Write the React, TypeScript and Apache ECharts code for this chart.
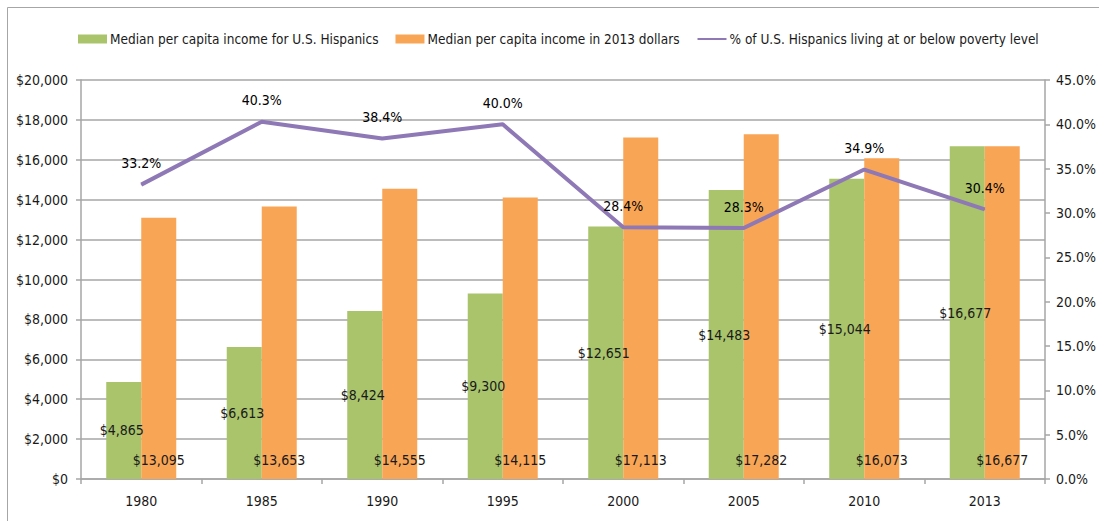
import React, { useEffect, useRef } from "react";
import * as echarts from "echarts";

const years = ["1980", "1985", "1990", "1995", "2000", "2005", "2010", "2013"];
const incomeNominal = [4865, 6613, 8424, 9300, 12651, 14483, 15044, 16677];
const income2013 = [13095, 13653, 14555, 14115, 17113, 17282, 16073, 16677];
const povertyPct = [33.2, 40.3, 38.4, 40.0, 28.4, 28.3, 34.9, 30.4];

const nameNominal = "Median per capita income for U.S. Hispanics";
const name2013 = "Median per capita income in 2013 dollars";
const namePoverty = "% of U.S. Hispanics living at or below poverty level";

const FONT = "'Liberation Sans Narrow', 'DejaVu Sans Condensed', 'Arial Narrow', sans-serif";
const GRAY = "#a6a6a6";
const TEXT = "#1a1a1a";
const FS = 14;
const PURPLE = "#8e78b5";

const money = (v: number) => "$" + v.toLocaleString("en-US");

export default function App() {
  const ref = useRef<HTMLDivElement>(null);
  useEffect(() => {
    if (!ref.current) return;
    const chart = echarts.init(ref.current, undefined, { renderer: "svg" });
    chart.setOption({
      animation: false,
      backgroundColor: "#ffffff",
      textStyle: { fontFamily: FONT, color: TEXT },
      graphic: [
        {
          type: "rect",
          shape: { x: 7.5, y: 7.5, width: 1300, height: 700 },
          style: { fill: "none", stroke: GRAY, lineWidth: 1 },
          silent: true,
        },
      ],
      legend: {
        left: 78,
        top: 32,
        padding: 0,
        itemWidth: 29,
        itemHeight: 9,
        itemGap: 17,
        width: 1010,
        textStyle: { fontFamily: FONT, fontSize: 13.5, color: TEXT, padding: [0, 0, 0, -2] },
        data: [
          { name: nameNominal, icon: "rect" },
          { name: name2013, icon: "rect" },
          { name: namePoverty, itemStyle: { color: "transparent", borderColor: "transparent", opacity: 0 } },
        ],
      },
      grid: { left: 81, right: 54, top: 80, bottom: 42 },
      xAxis: {
        type: "category",
        data: years,
        axisLine: { lineStyle: { color: GRAY, width: 1.5 } },
        axisTick: { show: true, length: 5, lineStyle: { color: GRAY, width: 1.5 } },
        axisLabel: { margin: 15, fontFamily: FONT, fontSize: FS, color: TEXT },
      },
      yAxis: [
        {
          type: "value",
          min: 0,
          max: 20000,
          interval: 2000,
          axisLine: { show: true, lineStyle: { color: GRAY, width: 1.5 } },
          axisTick: { show: true, length: 5, lineStyle: { color: GRAY, width: 1.5 } },
          axisLabel: { margin: 13, fontFamily: FONT, fontSize: FS, color: TEXT, formatter: (v: number) => money(v) },
          splitLine: { show: true, lineStyle: { color: GRAY, width: 1.5 } },
        },
        {
          type: "value",
          min: 0,
          max: 45,
          interval: 5,
          axisLine: { show: true, lineStyle: { color: GRAY, width: 1.5 } },
          axisTick: { show: true, length: 5, lineStyle: { color: GRAY, width: 1.5 } },
          axisLabel: { margin: 11, fontFamily: FONT, fontSize: FS, color: TEXT, formatter: (v: number) => v.toFixed(1) + "%" },
          splitLine: { show: false },
        },
      ],
      series: [
        {
          name: nameNominal,
          type: "bar",
          data: incomeNominal,
          barWidth: 35,
          barGap: "0%",
          itemStyle: { color: "#a9c46b" },
          label: {
            show: true,
            position: "inside",
            offset: [-2, 0],
            fontFamily: FONT,
            fontSize: FS,
            color: TEXT,
            formatter: (p: any) => money(p.value),
          },
        },
        {
          name: name2013,
          type: "bar",
          data: income2013,
          barWidth: 35,
          barGap: "0%",
          itemStyle: { color: "#f9a556" },
          label: {
            show: true,
            position: "insideBottom",
            distance: 12,
            fontFamily: FONT,
            fontSize: FS,
            color: TEXT,
            formatter: (p: any) => money(p.value),
          },
        },
        {
          name: namePoverty,
          type: "line",
          yAxisIndex: 1,
          data: povertyPct,
          symbol: "circle",
          symbolSize: 1,
          showSymbol: true,
          lineStyle: { color: PURPLE, width: 4 },
          itemStyle: { color: PURPLE },
          label: {
            show: true,
            position: "top",
            distance: 14,
            fontFamily: FONT,
            fontSize: FS,
            color: "#000000",
            formatter: (p: any) => p.value.toFixed(1) + "%",
          },
          z: 5,
        },
      ],
    });
    return () => chart.dispose();
  }, []);
  return (
    <div
      ref={ref}
      style={{ position: "fixed", left: 0, top: 0, width: 1099, height: 521 }}
    />
  );
}
